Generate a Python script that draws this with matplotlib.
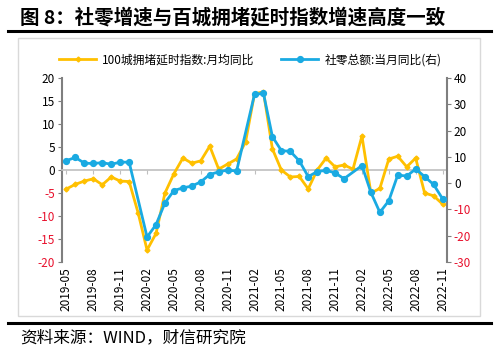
import numpy as np
import pandas as pd
import matplotlib
matplotlib.use("Agg")
from matplotlib import pyplot as plt
from matplotlib.patches import Rectangle
from matplotlib.lines import Line2D

plt.rcParams['font.family'] = ['Noto Sans CJK SC', 'DejaVu Sans']

months = [p.strftime("%Y-%m") for p in pd.period_range("2019-05", "2022-11", freq="M")]

# 100城拥堵延时指数:月均同比 (left axis)
congestion = [-4.1, -3.1, -2.4, -1.9, -3.2, -1.5, -2.4, -2.5,
              -9.3, -17.4, -13.8, -5.0, -0.8, 2.6, 1.5, 2.0, 5.2, 0.2, 1.3, 2.4,
              6.1, 16.6, 17.0, 4.6, 0.0, -1.5, -1.4, -4.1, 0.0, 2.6, 0.7, 1.1,
              0.2, 7.4, -5.0, -4.0, 2.4, 3.0, 0.7, 2.6, -5.0, -5.6, -7.4]

# 社零总额:当月同比 (right axis), NaN = no January print
retail = [8.6, 9.8, 7.6, 7.5, 7.8, 7.2, 8.0, 8.0,
          np.nan, -20.5, -15.8, -7.5, -2.8, -1.8, -1.1, 0.5, 3.3, 4.3, 5.0, 4.6,
          np.nan, 33.8, 34.2, 17.7, 12.4, 12.1, 8.5, 2.5, 4.4, 4.9, 3.9, 1.7,
          np.nan, 6.7, -3.5, -11.1, -6.7, 3.1, 2.7, 5.4, 2.5, -0.5, -5.9]

yellow = "#FFC000"
blue = "#1AAAE2"
red = "#E8112D"
gray = "#7F7F7F"

x = np.arange(len(months))
c = np.array(congestion)
r = np.array(retail)

fig = plt.figure(figsize=(5, 3.55), dpi=100)
ax = fig.add_axes([0.124, 0.262, 0.77, 0.518])

m1 = ~np.isnan(c)
ax.plot(x[m1], c[m1], color=yellow, lw=2, marker="D", ms=2.5, zorder=3)
ax.set_xlim(-0.5, 42.5)
ax.set_ylim(-20, 20)
ax.set_yticks(np.arange(-20, 21, 5))
for lab, v in zip(ax.set_yticklabels([str(v) for v in range(-20, 21, 5)]), range(-20, 21, 5)):
    lab.set_color(red if v < 0 else "black")

ax2 = ax.twinx()
m2 = ~np.isnan(r)
ax2.plot(x[m2], r[m2], color=blue, lw=2, marker="o", ms=4.2, zorder=3)
ax2.set_ylim(-30, 40)
ax2.set_yticks(np.arange(-30, 41, 10))
for lab, v in zip(ax2.set_yticklabels([str(v) for v in range(-30, 41, 10)]), range(-30, 41, 10)):
    lab.set_color(red if v < 0 else "black")

for a in (ax, ax2):
    for s in a.spines.values():
        s.set_visible(False)
ax.spines['left'].set_visible(True)
ax.spines['left'].set_color(gray)
ax.spines['left'].set_linewidth(1.5)
ax2.spines['right'].set_visible(True)
ax2.spines['right'].set_color(gray)
ax2.spines['right'].set_linewidth(1.5)
ax.tick_params(axis='y', length=3, color=gray, labelsize=8.5, pad=2)
ax2.tick_params(axis='y', length=3, color=gray, labelsize=8.5, pad=2)

# zero line with small ticks, labels at the bottom
ax.spines['bottom'].set_visible(True)
ax.spines['bottom'].set_position(('data', 0))
ax.spines['bottom'].set_color("#BFBFBF")
ax.spines['bottom'].set_linewidth(1.2)
ax.set_xticks(x[::3])
ax.tick_params(axis='x', length=3, color="#BFBFBF", labelbottom=False)
sec = ax.secondary_xaxis('bottom')
sec.set_xticks(x[::3])
sec.set_xticklabels(months[::3], rotation=90, fontsize=8.5)
sec.tick_params(length=0, pad=4)
sec.spines['bottom'].set_visible(False)

handles = [Line2D([], [], color=yellow, lw=2, marker="D", ms=2.5),
           Line2D([], [], color=blue, lw=2, marker="o", ms=4.2)]
fig.legend(handles, ["100城拥堵延时指数:月均同比", "社零总额:当月同比(右)"],
           loc="center", bbox_to_anchor=(0.5, 0.831), ncol=2, frameon=False,
           fontsize=8.5, handlelength=3.2, columnspacing=2.2, handletextpad=0.5)

# frame and report decorations
fig.patches.append(Rectangle((0.036, 0.11), 0.924, 0.783, transform=fig.transFigure,
                             fill=False, edgecolor="#D9D9D9", lw=1))
fig.add_artist(Line2D([0.016, 0.982], [0.912, 0.912], color="black", lw=2.2))
fig.add_artist(Line2D([0.016, 0.982], [0.09, 0.09], color="black", lw=2.2))
fig.text(0.04, 0.952, "图 8：社零增速与百城拥堵延时指数增速高度一致",
         fontsize=14, fontweight="bold", va="center", ha="left")
fig.text(0.04, 0.048, "资料来源：WIND，财信研究院", fontsize=12, style="italic",
         va="center", ha="left")

fig.savefig("out.png", dpi=100)
